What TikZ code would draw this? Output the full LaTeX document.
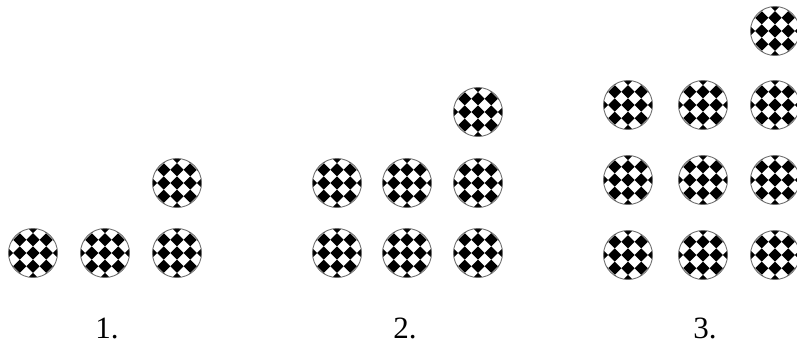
\documentclass[tikz,border=0pt]{standalone}
\usepackage{tikz}
\usepackage{xcolor}
\usepackage{fontspec}
\setmainfont{Liberation Serif}
\usetikzlibrary{positioning}
\definecolor{myrim}{RGB}{110, 110, 110}

\tikzset{
  ball/.style={circle, minimum size=49pt, inner sep=0pt, draw=myrim, line width=0.9pt,
    path picture={
      \begin{scope}[shift={(path picture bounding box.center)}]
        \foreach \r in {-2,...,2}{
          \foreach \c in {-2,...,2}{
            \pgfmathsetmacro{\xo}{2*\c*6.6}
            \pgfmathsetmacro{\yo}{2*\r*6.6}
            \fill[black] (\xo pt+6.6pt,\yo pt) -- (\xo pt,\yo pt+6.6pt) -- (\xo pt-6.6pt,\yo pt) -- (\xo pt,\yo pt-6.6pt) -- cycle;
          }}
      \end{scope}}},
  lbl/.style={anchor=base, inner sep=0pt, font=\fontsize{31}{37}\selectfont}
}

\begin{document}
\begin{tikzpicture}[x=1pt,y=-1pt]
        \useasboundingbox (0,0) rectangle (797,346);
        \node[lbl] (n1) at (107,338){1.};
        \node[lbl] (n2) at (405,338){2.};
        \node[lbl] (n3) at (705,338){3.};
        \clip (0,0) rectangle (797,346);
        \node[ball] (a1) at (33,253){};
        \node[ball] (a2) at (105,253){};
        \node[ball] (a3) at (177,253){};
        \node[ball] (a4) at (177,183){};
        \node[ball] (b1) at (337,253){};
        \node[ball] (b2) at (407,253){};
        \node[ball] (b3) at (478,253){};
        \node[ball] (b4) at (337,183){};
        \node[ball] (b5) at (407,183){};
        \node[ball] (b6) at (478,183){};
        \node[ball] (b7) at (478,112){};
        \node[ball] (c1) at (628,255){};
        \node[ball] (c2) at (703,255){};
        \node[ball] (c3) at (775,255){};
        \node[ball] (c4) at (628,180){};
        \node[ball] (c5) at (703,180){};
        \node[ball] (c6) at (775,180){};
        \node[ball] (c7) at (628,105){};
        \node[ball] (c8) at (703,105){};
        \node[ball] (c9) at (775,105){};
        \node[ball] (c10) at (775,31){};
      \end{tikzpicture}
\end{document}
